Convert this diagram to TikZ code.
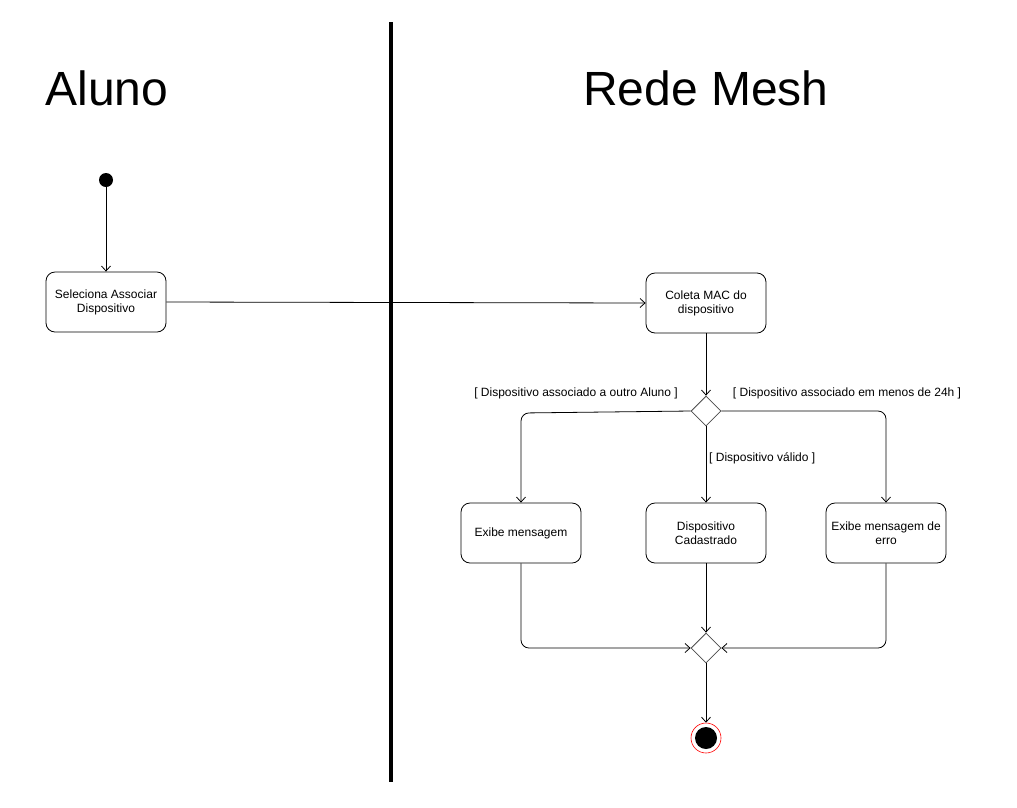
\documentclass[tikz,border=0pt]{standalone}
\usepackage{fontspec}
\setmainfont{Liberation Sans}
\usetikzlibrary{arrows.meta,shapes.geometric}
\begin{document}
\begin{tikzpicture}[x=1pt,y=-1pt,
  actbox/.style={draw,rounded corners=9pt,minimum width=120pt,minimum height=60pt,align=center,inner sep=1pt,font=\fontsize{12}{14}\selectfont,line width=0.8pt},
  decis/.style={draw=black!70,diamond,minimum width=30pt,minimum height=30pt,inner sep=0pt,line width=0.8pt},
  arr/.style={draw,line width=0.8pt,-{Straight Barb[length=5pt,width=9pt,line width=0.8pt]}},
  guard/.style={font=\fontsize{12}{14}\selectfont,inner sep=0pt},
  lanetitle/.style={font=\fontsize{48}{56}\selectfont,inner sep=0pt}]
\useasboundingbox (0,0) rectangle (1017,807);
\fill[white] (0,0) rectangle (1017,807);
% lane separator
\draw[line width=4pt] (391,22) -- (391,782);
\node[lanetitle] (aluno) at (107,88) {Aluno};
\node[lanetitle] (rede) at (706,88) {Rede Mesh};
% nodes
\node[circle,fill=black,minimum size=14pt,inner sep=0pt] (start) at (106,180) {};
\node[actbox] (sel) at (106,302) {Seleciona Associar\\Dispositivo};
\node[actbox] (coleta) at (706,303) {Coleta MAC do\\dispositivo};
\node[decis] (d1) at (706,411) {};
\node[actbox] (exibe) at (521,533) {Exibe mensagem};
\node[actbox] (cad) at (706,533) {Dispositivo\\Cadastrado};
\node[actbox] (erro) at (886,533) {Exibe mensagem de\\erro};
\node[decis] (d2) at (706,648) {};
\node[circle,draw=red,fill=white,minimum size=30pt,inner sep=0pt,line width=0.6pt] (final) at (706,738) {};
\node[circle,fill=black,minimum size=22pt,inner sep=0pt] (finalin) at (706,738) {};
% guards
\node[guard] (g1) at (576,393) {[ Dispositivo associado a outro Aluno ]};
\node[guard] (g2) at (847,393) {[ Dispositivo associado em menos de 24h ]};
\node[guard,anchor=west] (g3) at (709,458) {[ Dispositivo válido ]};
% connectors
\draw[arr] (start) -- (sel.north);
\draw[arr] (sel.east) -- (coleta.west);
\draw[arr] (coleta.south) -- (d1.north);
\draw[arr,rounded corners=8pt] (d1.west) -- (521,413) -- (exibe.north);
\draw[arr] (d1.south) -- (cad.north);
\draw[arr,rounded corners=8pt] (d1.east) -- (886,411) -- (erro.north);
\draw[arr,rounded corners=8pt] (exibe.south) -- (521,648) -- (d2.west);
\draw[arr] (cad.south) -- (d2.north);
\draw[arr,rounded corners=8pt] (erro.south) -- (886,648) -- (d2.east);
\draw[arr] (d2.south) -- (final.north);
\end{tikzpicture}
\end{document}
